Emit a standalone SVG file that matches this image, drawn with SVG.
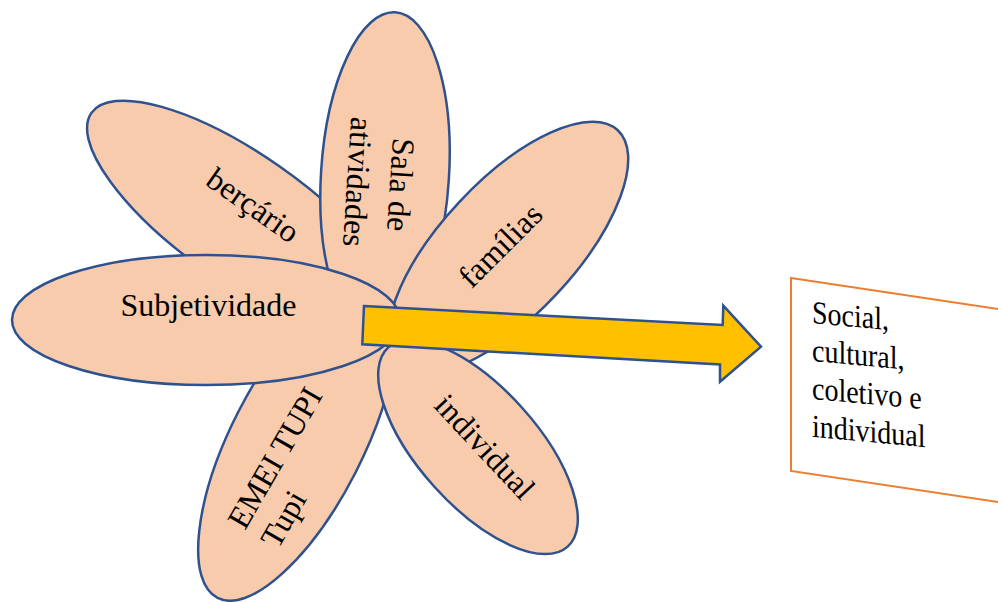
<svg xmlns="http://www.w3.org/2000/svg" width="998" height="602" viewBox="0 0 998 602">
<style>
.petal{fill:#F8CBAD;stroke:#2F528F;stroke-width:2.5}
.lbl{font-family:"Liberation Serif","Times New Roman",serif;font-size:32px;fill:#000}
.mid{text-anchor:middle}
.box{fill:#FFFFFF;stroke:#ED7D31;stroke-width:2}
.boxtxt{font-family:"Liberation Serif","Times New Roman",serif;font-size:28px;fill:#000}
.arrow{fill:#FFC000;stroke:#2F528F;stroke-width:2.5;stroke-linejoin:miter}
</style>
<rect width="998" height="602" fill="#FFFFFF"/>
<g id="bercario">
<ellipse class="petal" cx="243" cy="219" rx="185" ry="64" transform="rotate(35 243 219)"/>
<text class="lbl mid" transform="translate(247,214) rotate(35)">berçário</text>
</g>
<g id="emei">
<ellipse class="petal" cx="297" cy="442" rx="175" ry="66" transform="rotate(-63 297 442)"/>
<text class="lbl" transform="translate(245,531) rotate(-60)"><tspan x="0" y="0">EMEI TUPI</tspan><tspan x="0" y="38">Tupi</tspan></text>
</g>
<g id="sala">
<ellipse class="petal" cx="385" cy="175" rx="64" ry="163" transform="rotate(3.6 385 175)"/>
<text class="lbl mid" transform="translate(390,184) rotate(93.6)"><tspan x="0" y="0">Sala de</tspan><tspan x="0" y="43">atividades</tspan></text>
</g>
<g id="familias">
<ellipse class="petal" cx="508" cy="248" rx="161" ry="67" transform="rotate(-47 508 248)"/>
<text class="lbl mid" transform="translate(508,253) rotate(-45)">famílias</text>
</g>
<g id="individual">
<ellipse class="petal" cx="478" cy="447" rx="134" ry="59" transform="rotate(48 478 447)"/>
<text class="lbl mid" transform="translate(477,454) rotate(47)">individual</text>
</g>
<g id="subjetividade">
<ellipse class="petal" cx="206" cy="320" rx="194" ry="65"/>
<text class="lbl mid" x="208.5" y="316">Subjetividade</text>
</g>
<g id="connectors">
<polygon class="arrow" points="364,306 722.7,325 723.3,305.7 761,346.7 720,381.7 720,364.5 362.3,344.3"/>
</g>
<g id="resultado">
<polygon class="box" points="791,278 1020,312.4 1020,505.4 791,471"/>
<text class="boxtxt" transform="translate(812,323) skewY(5.2) scale(1,1.15)"><tspan x="0" y="0">Social,</tspan><tspan x="0" y="33">cultural,</tspan><tspan x="0" y="66">coletivo e</tspan><tspan x="0" y="99">individual</tspan></text>
</g>
</svg>
